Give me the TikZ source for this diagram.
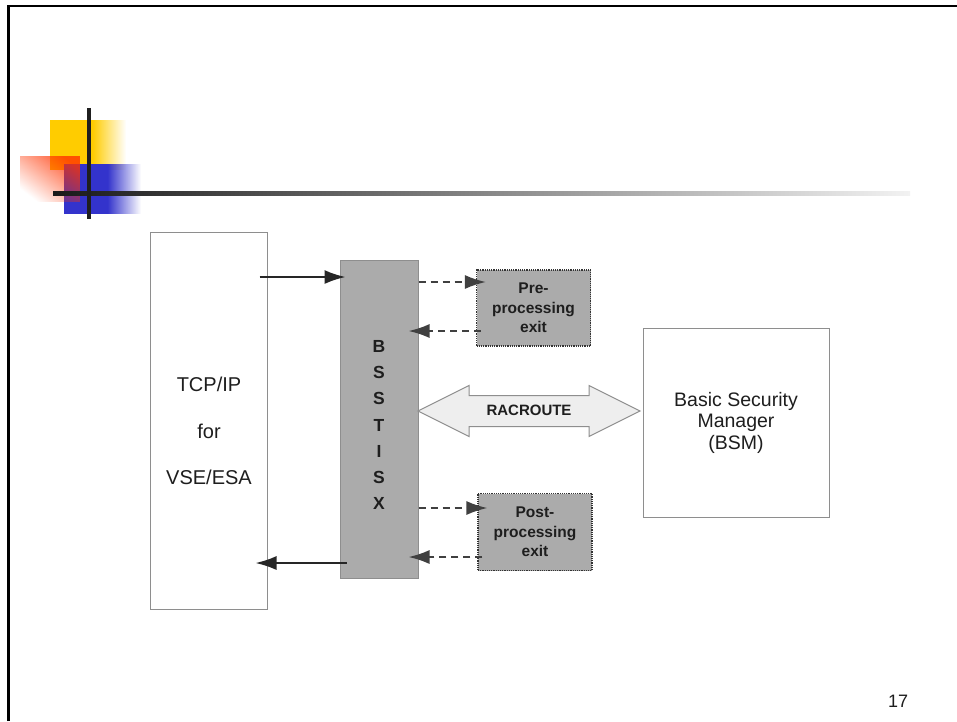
\documentclass[tikz,border=0pt]{standalone}
\usepackage{fontspec}
\setmainfont{Liberation Sans}
\usepackage{xcolor}
\usetikzlibrary{arrows.meta, positioning, shapes.arrows, fadings}

\definecolor{slideyellow}{HTML}{FFCC00}
\definecolor{slideblue}{HTML}{3333CC}
\definecolor{slidered}{HTML}{FF3300}
\definecolor{boxgray}{HTML}{ABABAB}
\definecolor{edgegray}{HTML}{8E8E8E}
\definecolor{racfill}{HTML}{EEEEEE}
\definecolor{txt}{HTML}{1E1E1E}

\tikzfading[name=fade out east, left color=transparent!0, right color=transparent!100]
\tikzfading[name=fade red, top color=transparent!0, bottom color=transparent!100, shading angle=-45]

\begin{document}
\begin{tikzpicture}[x=1pt, y=-1pt,
  plainbox/.style={rectangle, draw=edgegray, line width=1pt, fill=white},
  bssbox/.style={rectangle, draw=edgegray, line width=1pt, fill=boxgray},
  exitbox/.style={rectangle, draw=black!80, densely dotted, line width=1.2pt, fill=boxgray,
                  minimum width=114pt, minimum height=76pt, align=center, text=txt,
                  font=\fontsize{15.5}{19.5}\selectfont\bfseries},
  arr/.style={-{Latex[length=21pt, width=14pt]}, line width=1.8pt, draw=black!85},
  darr/.style={arr, draw=black!75, dash pattern=on 7pt off 5pt}
]
  \useasboundingbox (0,0) rectangle (957,721);

  % slide frame
  \draw[line width=2.6pt, line join=miter] (8.3,721) -- (8.3,5.8) -- (957,5.8);

  % slide decoration
  \fill[slideyellow] (50,120) rectangle (93,170);
  \fill[slideyellow, path fading=fade out east] (92.5,120) rectangle (126,170);
  \fill[slideblue] (64,164) rectangle (108,214);
  \fill[slideblue, path fading=fade out east] (107.5,164) rectangle (141,214);
  \fill[slidered, fill opacity=0.8, path fading=fade red] (20,156) rectangle (80,202);
  \shade[left color=black!90, middle color=black!55, right color=black!5] (53,191) rectangle (910,195);
  \fill[black!88] (87,108) rectangle (91,219);

  % boxes
  \node[plainbox, minimum width=117pt, minimum height=377pt] (tcp) at (208.5,420.5) {};
  \node[align=center, text=txt, font=\fontsize{20}{46.5}\selectfont] (tcptext) at (209,431)
    {TCP/IP\\for\\VSE/ESA};
  \node[bssbox, minimum width=78pt, minimum height=318pt] (bss) at (379,419) {};
  \node[align=center, text=txt, font=\fontsize{17.5}{26.2}\selectfont\bfseries] (bssname) at (379,425)
    {B\\S\\S\\T\\I\\S\\X};
  \node[exitbox] (pre) at (533.5,308) {Pre-\\processing\\exit};
  \node[exitbox, minimum height=77pt] (post) at (535,532) {Post-\\processing\\exit};
  \node[plainbox, minimum width=186pt, minimum height=189pt, align=center, text=txt,
        font=\fontsize{19.5}{21.5}\selectfont] (bsm) at (736,422.5)
    {Basic Security\\Manager\\(BSM)};

  % racroute
  \node[double arrow, draw=edgegray, fill=racfill, line width=1pt, minimum height=222pt,
        double arrow head extend=10pt, double arrow tip angle=53.13, inner xsep=0pt,
        inner ysep=10.5pt, text height=9pt, text depth=0pt, text=txt,
        font=\fontsize{15}{17}\selectfont\bfseries] (rac) at (529,411) {RACROUTE};

  % connectors
  \draw[arr, shorten <=-8pt, shorten >=-6pt] (tcp.east |- 0,277) -- (bss.west |- 0,277);
  \draw[arr, shorten <=-7pt, shorten >=-12pt] (bss.west |- 0,563) -- (tcp.east |- 0,563);
  \draw[darr, shorten >=-10pt] (bss.east |- 0,282) -- (pre.west |- 0,282);
  \draw[darr, shorten <=-5pt, shorten >=-10pt] (pre.west |- 0,331) -- (bss.east |- 0,331);
  \draw[darr, shorten >=-10pt] (bss.east |- 0,508) -- (post.west |- 0,508);
  \draw[darr, shorten <=-5pt, shorten >=-10pt] (post.west |- 0,557) -- (bss.east |- 0,557);

  % page number
  \node[text=txt, font=\fontsize{18}{20}\selectfont] (pgnum) at (898,701) {17};
\end{tikzpicture}
\end{document}
